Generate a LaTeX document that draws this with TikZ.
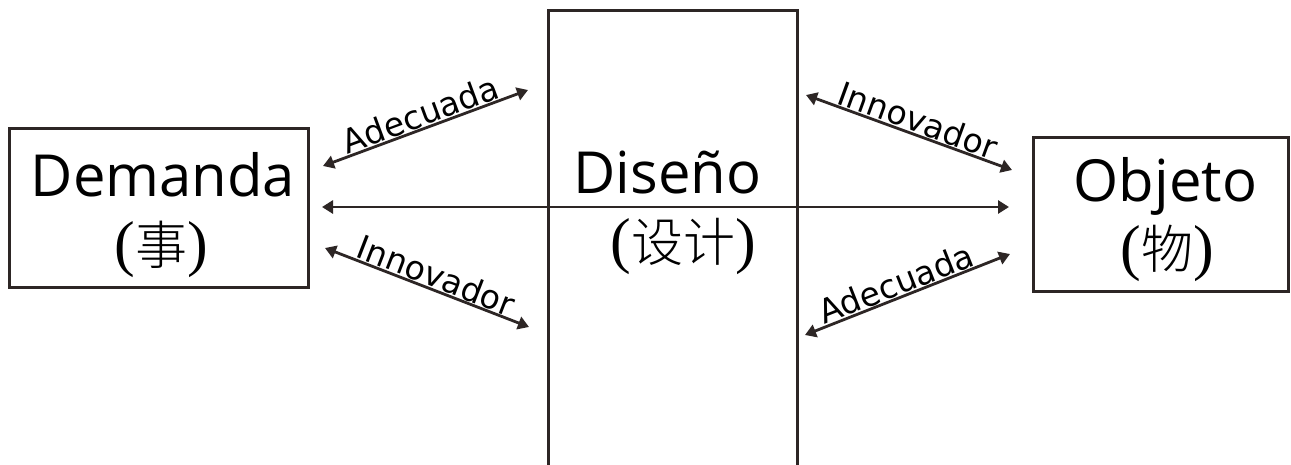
\documentclass[tikz,border=0pt]{standalone}
\usepackage{fontspec}
\setmainfont{Open Sans}
\newfontfamily\labfont{DejaVu Sans}
\newfontfamily\cjkfont[UprightFont={* Light}]{Noto Sans CJK SC}
\newfontfamily\parfont{Liberation Serif}
\usetikzlibrary{arrows.meta}
\definecolor{linecol}{RGB}{45,38,37}
\newcommand{\cjkpar}[1]{{\parfont\fontsize{62}{62}\selectfont(}{\cjkfont\fontsize{52}{52}\selectfont #1}{\parfont\fontsize{62}{62}\selectfont)}}
\tikzset{
  box/.style={draw=linecol, line width=3pt, rectangle, inner sep=0pt},
  titletext/.style={font=\fontsize{58}{58}\selectfont, inner sep=0pt, anchor=base},
  cjktext/.style={inner sep=0pt, anchor=base},
  arr/.style={draw=linecol, line width=2.8pt, {Triangle[length=11pt,width=13pt]}-{Triangle[length=11pt,width=13pt]}},
  lab/.style={font=\labfont\fontsize{33}{33}\selectfont, sloped, anchor=south, inner sep=0.5pt, pos=0.5}
}
\begin{document}
\begin{tikzpicture}[x=1pt,y=-1pt]
\useasboundingbox (0,0) rectangle (1291,464);
\clip (0,0) rectangle (1291,464);
\fill[white] (0,0) rectangle (1291,464);

% boxes
\node[box, minimum width=299pt, minimum height=159pt] (dem) at (158.5,207.5) {};
\node[box, minimum width=249pt, minimum height=490pt] (dis) at (672.5,255) {};
\node[box, minimum width=255pt, minimum height=154pt] (obj) at (1160.5,214) {};

% texts
\node[titletext] (demt) at (163,196) {Demanda};
\node[cjktext] (demc) at (161.5,264) {\cjkpar{事}};
\node[titletext] (dist) at (667.5,193) {Diseño};
\node[cjktext] (disc) at (683,261) {\cjkpar{设计}};
\node[titletext] (objt) at (1165.5,201) {Objeto};
\node[cjktext] (objc) at (1167,268) {\cjkpar{物}};

% connector end points
\coordinate (hl) at (322,207);
\coordinate (hr) at (1009,207);
\coordinate (tla) at (323,166);
\coordinate (tlb) at (528,90);
\coordinate (bla) at (325,248);
\coordinate (blb) at (529,327);
\coordinate (tra) at (806,95);
\coordinate (trb) at (1012,170);
\coordinate (bra) at (805,335);
\coordinate (brb) at (1010,254);

% connectors
\draw[arr] (hl) -- (hr);
\draw[arr] (tla) -- node[lab] (l1) {Adecuada} (tlb);
\draw[arr] (bla) -- node[lab, pos=0.52] (l2) {Innovador} (blb);
\draw[arr] (tra) -- node[lab, pos=0.52] (l3) {Innovador} (trb);
\draw[arr] (bra) -- node[lab, pos=0.47] (l4) {Adecuada} (brb);
\end{tikzpicture}
\end{document}
